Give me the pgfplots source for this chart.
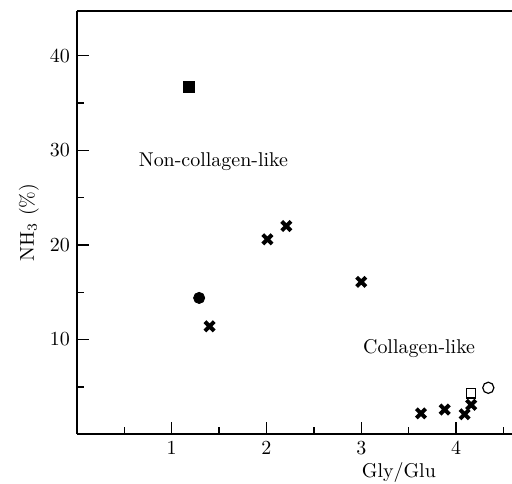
\documentclass[border=0pt]{standalone}
\usepackage{pgfplots}
\pgfplotsset{compat=1.18}
\begin{document}
\begin{tikzpicture}
\begin{axis}[name=ax, scale only axis, width=218pt, height=212pt,
  xmin=0, xmax=4.59, ymin=0, ymax=44.74,
  axis lines*=left, axis line style={line width=0.8pt},
  tick align=inside, tick style={line width=0.7pt, black},
  xtick={1,2,3,4}, minor xtick={0.5,1.5,2.5,3.5,4.5},
  ytick={10,20,30,40}, minor ytick={5,15,25,35},
  major tick length=6pt, minor tick length=3.8pt,
  every axis y label/.style={at={(axis description cs:-0.11,0.5)}, rotate=90, anchor=center},
  every axis x label/.style={at={(axis description cs:0.74,-0.09)}, anchor=center},
  xlabel={Gly/Glu}, ylabel={NH$_3$ (\%)},
  clip=false]
\addplot[only marks, mark=square*, mark size=2.6pt, black] coordinates {(1.18,36.7)};
\addplot[only marks, mark=*, mark size=2.8pt, black] coordinates {(1.29,14.4)};
\addplot[only marks, mark=x, mark size=3.3pt, black, line width=2pt] coordinates {
(1.40,11.4) (2.01,20.6) (2.21,22.0) (3.00,16.1) (3.63,2.2) (3.88,2.6) (4.09,2.1) (4.16,3.1)};
\addplot[only marks, mark=square, mark size=2.3pt, black, line width=0.6pt] coordinates {(4.16,4.3)};
\addplot[only marks, mark=o, mark size=2.8pt, black, line width=0.6pt] coordinates {(4.34,4.9)};
\node[anchor=center] at (axis cs:1.44,28.8) {Non-collagen-like};
\node[anchor=center] at (axis cs:3.61,9.05) {Collagen-like};
\draw[line width=0.8pt] (rel axis cs:0,1) -- (rel axis cs:1,1);
\end{axis}
\pgfresetboundingbox
\path ([xshift=-38.5pt,yshift=-24.5pt]ax.south west) rectangle ([yshift=5.5pt]ax.north east);
\end{tikzpicture}
\end{document}
